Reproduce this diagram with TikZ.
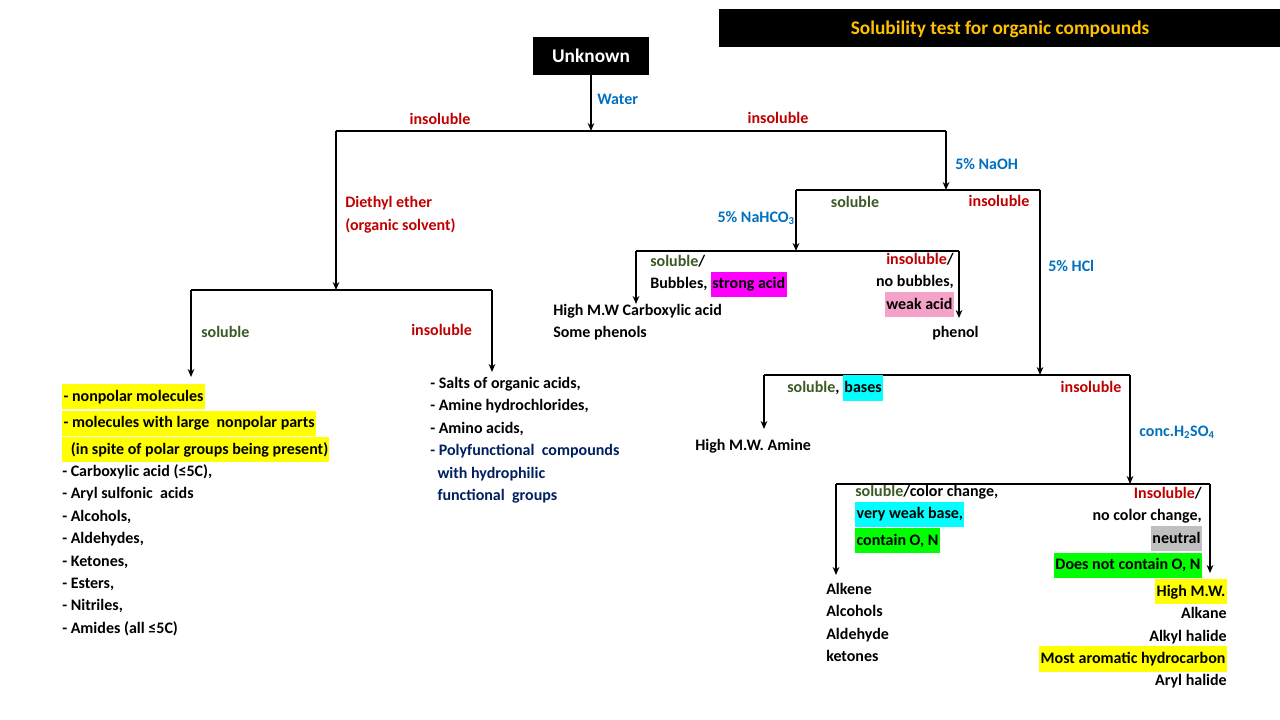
\documentclass[tikz,border=0pt]{standalone}
\usepackage{fontspec}
\setmainfont{Carlito}
\usetikzlibrary{arrows.meta}
\definecolor{cred}{HTML}{C00000}
\definecolor{cblue}{HTML}{0070C0}
\definecolor{cgreen}{HTML}{3B5A26}
\definecolor{cnavy}{HTML}{002060}
\definecolor{ctitle}{HTML}{FFC000}
\definecolor{hyel}{HTML}{FFFF00}
\definecolor{hmag}{HTML}{FF00FF}
\definecolor{hpink}{HTML}{F4A2C8}
\definecolor{hcyan}{HTML}{00FFFF}
\definecolor{hgreen}{HTML}{00FF00}
\definecolor{hgray}{HTML}{BFBFBF}
\newcommand{\hl}[2]{{\setlength\fboxsep{1pt}\colorbox{#1}{\strut #2}}}
\newcommand{\R}[1]{\textcolor{cred}{#1}}
\newcommand{\G}[1]{\textcolor{cgreen}{#1}}
\begin{document}
\begin{tikzpicture}[x=0.75pt,y=-0.75pt,
  every node/.style={font=\bfseries\fontsize{12}{16.8}\selectfont, inner sep=0pt},
  ln/.style={line width=1.3pt},
  arr/.style={line width=1.3pt,-{Stealth[length=6pt,width=5pt]}},
  lbl/.style={anchor=west},
  red/.style={text=cred}, blue/.style={text=cblue}, green/.style={text=cgreen}]
\useasboundingbox[fill=white] (0,0) rectangle (1280,720);
\fill (719,9) rectangle (1280,47);
\node[text=ctitle,font=\bfseries\fontsize{14.5}{17}\selectfont] (title) at (1000,29) {Solubility test for organic compounds};
\node[fill=black,text=white,minimum width=87pt,minimum height=28pt,font=\bfseries\fontsize{14.5}{17}\selectfont] (unk) at (591,56) {Unknown};
% level 1
\coordinate (j1) at (591,131);
\coordinate (l1) at (336,131);
\coordinate (r1) at (946,131);
\draw[arr] (unk.south) -- (j1);
\draw[ln] (l1) -- (r1);
\node[lbl,blue] (water) at (597,99) {Water};
\node[red] (ins1) at (440,119) {insoluble};
\node[red] (ins2) at (778,118) {insoluble};
% left branch
\coordinate (l2) at (336,290);
\coordinate (ll) at (191,290);
\coordinate (lr) at (492,290);
\draw[arr] (l1) -- (l2);
\draw[ln] (ll) -- (lr);
\node[lbl,red] (ether) at (345,203) {Diethyl ether};
\node[lbl,red] (orgs) at (345,226) {(organic solvent)};
\coordinate (llb) at (191,377);
\coordinate (lrb) at (492,372);
\draw[arr] (ll) -- (llb);
\draw[arr] (lr) -- (lrb);
\node[lbl,green] (sol2) at (201,332) {soluble};
\node[lbl,red] (ins3) at (411,330) {insoluble};
\node[anchor=north west,align=left] (leftlist) at (62,384) {%
\hl{hyel}{- nonpolar molecules}\\
\hl{hyel}{- molecules with large\ \ nonpolar parts}\\
\hl{hyel}{\ \ (in spite of polar groups being present)}\\
- Carboxylic acid (≤5C),\\
- Aryl sulfonic\ \ acids\\
- Alcohols,\\
- Aldehydes,\\
- Ketones,\\
- Esters,\\
- Nitriles,\\
- Amides (all ≤5C)};
\node[anchor=north west,align=left] (midlist) at (430,377) {%
- Salts of organic acids,\\
- Amine hydrochlorides,\\
- Amino acids,\\
\textcolor{cnavy}{- Polyfunctional\ \ compounds}\\
\textcolor{cnavy}{\ \ with hydrophilic}\\
\textcolor{cnavy}{\ \ functional\ \ groups}};
% right branch
\coordinate (r2) at (946,190);
\coordinate (rl) at (796,190);
\coordinate (rr) at (1040,190);
\draw[arr] (r1) -- (r2);
\draw[ln] (rl) -- (rr);
\node[lbl,blue] (naoh) at (955,164) {5\% NaOH};
\node[anchor=east,blue] (bicarb) at (795,218) {5\% NaHCO\textsubscript{3}};
\node[green] (sol3) at (855,202) {soluble};
\node[red] (ins4) at (999,201) {insoluble};
\coordinate (b1) at (796,251);
\coordinate (bl) at (636,251);
\coordinate (br) at (959,251);
\draw[arr] (rl) -- (b1);
\draw[ln] (bl) -- (br);
\draw[arr] (bl) -- (636,304);
\draw[arr] (br) -- (959,318);
\node[anchor=north west,align=left] (strong) at (650,255) {\G{soluble}/\\Bubbles, \hl{hmag}{strong acid}};
\node[anchor=north east,align=right] (weak) at (954,253) {\R{insoluble}/\\no bubbles,\\\hl{hpink}{weak acid}};
\node[anchor=north west,align=left] (carbox) at (553,304) {High M.W Carboxylic acid\\Some phenols};
\node[lbl] (phenol) at (932,333) {phenol};
% HCl
\coordinate (h1) at (1040,375);
\coordinate (hl) at (764,375);
\coordinate (hr) at (1130,375);
\draw[arr] (rr) -- (h1);
\draw[ln] (hl) -- (hr);
\node[lbl,blue] (hcl) at (1048,266) {5\% HCl};
\draw[arr] (hl) -- (764,429);
\node[lbl] (bases) at (787,388) {\G{soluble}, \hl{hcyan}{bases}};
\node[red] (ins5) at (1091,387) {insoluble};
\node[lbl] (amine) at (695,446) {High M.W. Amine};
\node[lbl,blue] (h2so4) at (1139,432) {conc.H\textsubscript{2}SO\textsubscript{4}};
% H2SO4
\coordinate (s1) at (1130,484);
\coordinate (sl) at (836,484);
\coordinate (sr) at (1210,484);
\draw[arr] (hr) -- (s1);
\draw[ln] (sl) -- (sr);
\draw[arr] (sl) -- (836,575);
\draw[arr] (sr) -- (1210,573);
\node[anchor=north west,align=left] (vwb) at (855,485) {\G{soluble}/color change,\\\hl{hcyan}{very weak base,}\\\hl{hgreen}{contain O, N}};
\node[anchor=north east,align=right] (neut) at (1202,487) {\R{Insoluble}/\\no color change,\\\hl{hgray}{neutral}\\\hl{hgreen}{Does not contain O, N}};
\node[anchor=north west,align=left] (alk) at (826,583) {Alkene\\Alcohols\\Aldehyde\\ketones};
\node[anchor=north east,align=right] (alkane) at (1227,579) {\hl{hyel}{High M.W.}\\Alkane\\Alkyl halide\\\hl{hyel}{Most aromatic hydrocarbon}\\Aryl halide};
\end{tikzpicture}
\end{document}
